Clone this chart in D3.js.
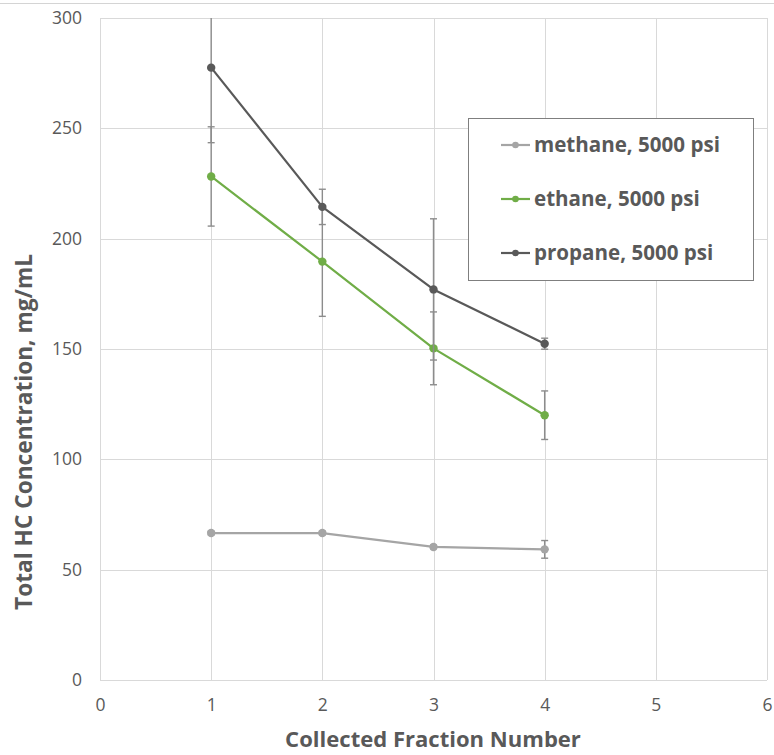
<!DOCTYPE html>
<html>
<head>
<meta charset="utf-8">
<script src="https://cdn.jsdelivr.net/npm/d3@7"></script>
<style>
  html, body { margin: 0; padding: 0; background: #fff; }
  svg { display: block; }
  text { font-family: "Open Sans", "Noto Sans", sans-serif; }
</style>
</head>
<body>
<svg id="chart" width="774" height="755"></svg>
<script>
// Collected fraction numbers (x) and total hydrocarbon concentration, mg/mL (y)
const fractions = [1, 2, 3, 4];
const methane = [66.6, 66.6, 60.3, 59.2];
const methaneErr = [0.8, 0.8, 0.8, 4];
const ethane = [228.2, 189.6, 150.3, 120.0];
const ethaneErr = [22.5, 24.8, 16.5, 11];
const propane = [277.5, 214.4, 177.0, 152.4];
const propaneErr = [34, 8, 32, 2.5];

const seriesNames = ["methane, 5000 psi", "ethane, 5000 psi", "propane, 5000 psi"];
const seriesColors = ["#a5a5a5", "#70ad47", "#595959"];

const xTicks = [0, 1, 2, 3, 4, 5, 6];
const yTicks = [0, 50, 100, 150, 200, 250, 300];

const xTitle = "Collected Fraction Number";
const yTitle = "Total HC Concentration, mg/mL";

const series = [
  { name: seriesNames[0], color: seriesColors[0], values: methane, err: methaneErr },
  { name: seriesNames[1], color: seriesColors[1], values: ethane, err: ethaneErr },
  { name: seriesNames[2], color: seriesColors[2], values: propane, err: propaneErr }
];

const svg = d3.select("#chart");
const W = 774, H = 755;
const plot = { left: 100, right: 767, top: 18, bottom: 680 };

const x = d3.scaleLinear().domain([0, 6]).range([plot.left, plot.right]);
const y = d3.scaleLinear().domain([0, 300]).range([plot.bottom, plot.top]);

const gridColor = "#d9d9d9";
const textColor = "#595959";

// thin frame line along the top edge
svg.append("line")
  .attr("x1", 0).attr("x2", W).attr("y1", 3.5).attr("y2", 3.5)
  .attr("stroke", "#d4d4d4").attr("stroke-width", 1);

// gridlines
const grid = svg.append("g");
grid.selectAll("line.h").data(yTicks).join("line")
  .attr("x1", plot.left).attr("x2", plot.right)
  .attr("y1", d => Math.round(y(d)) + 0.5).attr("y2", d => Math.round(y(d)) + 0.5)
  .attr("stroke", gridColor).attr("stroke-width", 1);
grid.selectAll("line.v").data(xTicks).join("line")
  .attr("y1", plot.top).attr("y2", plot.bottom)
  .attr("x1", d => Math.round(x(d)) + 0.5).attr("x2", d => Math.round(x(d)) + 0.5)
  .attr("stroke", gridColor).attr("stroke-width", 1);

// axes (labels only, lines come from the grid)
const tickFont = "17.5px";
const yAxis = d3.axisLeft(y).tickValues(yTicks).tickFormat(d3.format("d"))
  .tickSize(0).tickPadding(0);
const gy = svg.append("g").attr("transform", `translate(${plot.left - 18},0)`).call(yAxis);
gy.select(".domain").remove();
gy.selectAll("text").attr("fill", textColor).style("font-size", tickFont)
  .style("font-family", "'Open Sans', sans-serif");

const xAxis = d3.axisBottom(x).tickValues(xTicks).tickFormat(d3.format("d"))
  .tickSize(0).tickPadding(0);
const gx = svg.append("g").attr("transform", `translate(0,${plot.bottom + 19})`).call(xAxis);
gx.select(".domain").remove();
gx.selectAll("text").attr("fill", textColor).style("font-size", tickFont)
  .style("font-family", "'Open Sans', sans-serif");

// size a bold text so that it spans a given width
function fitText(sel, target, base) {
  sel.style("font-size", base + "px");
  const w = sel.node().getComputedTextLength();
  sel.style("font-size", (base * target / w).toFixed(2) + "px");
}

// axis titles
const xt = svg.append("text")
  .attr("x", (283 + 583) / 2).attr("y", 747)
  .attr("text-anchor", "middle").attr("font-weight", "bold")
  .attr("fill", textColor).text(xTitle);
fitText(xt, 296, 20);

const yt = svg.append("text")
  .attr("transform", `translate(32,${(254 + 610) / 2}) rotate(-90)`)
  .attr("text-anchor", "middle").attr("font-weight", "bold")
  .attr("fill", textColor).text(yTitle);
fitText(yt, 356, 20);

// clip marks to the plot area
svg.append("clipPath").attr("id", "plotClip")
  .append("rect")
  .attr("x", plot.left).attr("y", plot.top)
  .attr("width", plot.right - plot.left).attr("height", plot.bottom - plot.top);

const marks = svg.append("g").attr("clip-path", "url(#plotClip)");

const line = d3.line().x(d => x(d.x)).y(d => y(d.y));
const capHalf = 3.5;
const errColor = "#8c8c8c";

series.forEach(s => {
  const pts = fractions.map((f, i) => ({ x: f, y: s.values[i], e: s.err[i] }));
  const g = marks.append("g");

  // error bars
  const eb = g.append("g");
  eb.selectAll("line.stem").data(pts).join("line")
    .attr("x1", d => x(d.x)).attr("x2", d => x(d.x))
    .attr("y1", d => y(d.y + d.e)).attr("y2", d => y(d.y - d.e))
    .attr("stroke", errColor).attr("stroke-width", 1.4);
  eb.selectAll("line.capTop").data(pts).join("line")
    .attr("x1", d => x(d.x) - capHalf).attr("x2", d => x(d.x) + capHalf)
    .attr("y1", d => y(d.y + d.e)).attr("y2", d => y(d.y + d.e))
    .attr("stroke", errColor).attr("stroke-width", 1.4);
  eb.selectAll("line.capBot").data(pts).join("line")
    .attr("x1", d => x(d.x) - capHalf).attr("x2", d => x(d.x) + capHalf)
    .attr("y1", d => y(d.y - d.e)).attr("y2", d => y(d.y - d.e))
    .attr("stroke", errColor).attr("stroke-width", 1.4);

  // connecting line
  g.append("path").datum(pts)
    .attr("d", line).attr("fill", "none")
    .attr("stroke", s.color).attr("stroke-width", 2.2)
    .attr("stroke-linejoin", "round");

  // markers
  g.selectAll("circle").data(pts).join("circle")
    .attr("cx", d => x(d.x)).attr("cy", d => y(d.y)).attr("r", 4.2)
    .attr("fill", s.color);
});

// legend
const legend = svg.append("g");
legend.append("rect")
  .attr("x", 468.5).attr("y", 118.5).attr("width", 285).attr("height", 162)
  .attr("fill", "#fff").attr("stroke", "#7f7f7f").attr("stroke-width", 1);

const legendY = [145, 199, 253];
const items = legend.selectAll("g.item").data(series).join("g")
  .attr("transform", (d, i) => `translate(0,${legendY[i]})`);
items.append("line")
  .attr("x1", 501).attr("x2", 530).attr("y1", 0).attr("y2", 0)
  .attr("stroke", d => d.color).attr("stroke-width", 2.2);
items.append("circle")
  .attr("cx", 515.5).attr("cy", 0).attr("r", 3.3)
  .attr("fill", d => d.color);
const labels = items.append("text")
  .attr("x", 534).attr("y", 0).attr("dy", "0.35em")
  .attr("font-weight", "bold").attr("fill", textColor)
  .text(d => d.name);
// fit legend font to the width of the first label
const first = labels.filter((d, i) => i === 0);
first.style("font-size", "17px");
const lw = first.node().getComputedTextLength();
labels.style("font-size", (17 * 186 / lw).toFixed(2) + "px");
</script>
</body>
</html>
